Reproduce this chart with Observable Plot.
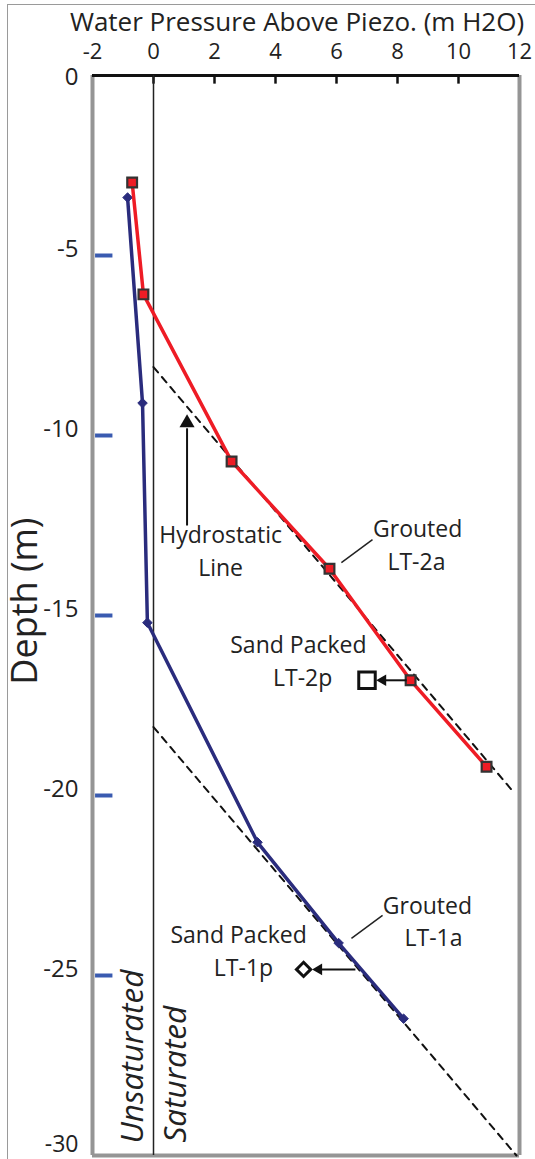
<!DOCTYPE html>
<html>
<head>
<meta charset="utf-8">
<script src="https://cdn.jsdelivr.net/npm/d3@7"></script>
<script src="https://cdn.jsdelivr.net/npm/@observablehq/plot@0.6"></script>
<style>
  html, body { margin: 0; padding: 0; background: #fff; }
  #chart { position: relative; width: 535px; height: 1159px; }
  #border { position: absolute; left: 7px; top: 4px; width: 540px; height: 1160px; border: 1px solid #9a9a9a; pointer-events: none; }
</style>
</head>
<body>
<div id="chart"><div id="border"></div></div>
<script>
// ---- data ----
const xTicks = [-2, 0, 2, 4, 6, 8, 10, 12];
const topTickMarks = [0, 2, 4, 6, 8, 10];
const yTickTop = [0];
const yTicksMid = [-5, -10, -15, -20, -25];
const yTickBottom = [-30];
const blueTickDepths = [-5, -10, -15, -20, -25];

// Grouted LT-2a (red)
const lt2aPressure = [-0.7, -0.33, 2.56, 5.77, 8.43, 10.92];
const lt2aDepth = [-2.97, -6.08, -10.72, -13.7, -16.8, -19.2];
// Grouted LT-1a (blue)
const lt1aPressure = [-0.85, -0.36, -0.2, 3.41, 6.07, 8.2];
const lt1aDepth = [-3.39, -9.1, -15.2, -21.3, -24.1, -26.2];
// Sand packed piezometers
const lt2pPressure = [7.0];
const lt2pDepth = [-16.8];
const lt1pPressure = [4.92];
const lt1pDepth = [-24.83];
// Hydrostatic lines
const hydroName = ["upper", "upper", "lower", "lower"];
const hydroPressure = [0, 11.8, 0, 11.9];
const hydroDepth = [-8.1, -19.9, -18.1, -30];

// annotation text
const labelText = ["Hydrostatic", "Line", "Grouted", "LT-2a", "Sand Packed", "LT-2p", "Grouted", "LT-1a", "Sand Packed", "LT-1p"];
const labelX = [2.2, 2.2, 8.66, 8.62, 4.75, 4.89, 8.98, 9.18, 2.79, 2.95];
const labelY = [-12.78, -13.69, -12.61, -13.53, -15.83, -16.75, -23.08, -23.97, -23.89, -24.8];
const zoneText = ["Unsaturated", "Saturated"];
const zoneX = [-0.66, 0.72];
const zoneY = [-29.67, -29.64];
const depthLabelY = [-14.6];

// arrows / leader lines (x1,y1,x2,y2)
const leaderX1 = [6.16, 6.49], leaderY1 = [-13.53, -23.97], leaderX2 = [7.18, 7.51], leaderY2 = [-12.89, -23.33];
const arrowX1 = [8.3, 6.62, 1.1], arrowY1 = [-16.8, -24.83, -12.5], arrowX2 = [7.6, 5.5, 1.1], arrowY2 = [-16.8, -24.83, -9.8];
const headX = [7.52, 5.42, 1.1], headY = [-16.8, -24.83, -9.65], headRot = [-90, -90, 0], headR = [4.3, 4.3, 5.6];

// ---- tables ----
const lt2a = lt2aPressure.map((x, i) => ({x, y: lt2aDepth[i]}));
const lt1a = lt1aPressure.map((x, i) => ({x, y: lt1aDepth[i]}));
const lt2p = lt2pPressure.map((x, i) => ({x, y: lt2pDepth[i]}));
const lt1p = lt1pPressure.map((x, i) => ({x, y: lt1pDepth[i]}));
const hydro = hydroPressure.map((x, i) => ({x, y: hydroDepth[i], z: hydroName[i]}));
const labels = labelText.map((t, i) => ({t, x: labelX[i], y: labelY[i]}));
const zones = zoneText.map((t, i) => ({t, x: zoneX[i], y: zoneY[i]}));
const leaders = leaderX1.map((x1, i) => ({x1, y1: leaderY1[i], x2: leaderX2[i], y2: leaderY2[i]}));
const arrows = arrowX1.map((x1, i) => ({x1, y1: arrowY1[i], x2: arrowX2[i], y2: arrowY2[i]}));
const heads = headX.map((x, i) => ({x, y: headY[i], rot: headRot[i], r: headR[i]}));

const red = "#ee1c25", navy = "#2a2c7d", blueTick = "#3a5bb0", gray = "#959595";
const fmt = d => String(d).replace("−", "-");
const yAxisOpts = {anchor: "left", tickSize: 0, tickPadding: 14, fontSize: 24, label: null, tickFormat: fmt};

const chart = Plot.plot({
  width: 535,
  height: 1159,
  marginLeft: 92,
  marginRight: 16,
  marginTop: 75,
  marginBottom: 4,
  x: {domain: [-2, 12]},
  y: {domain: [-30, 0]},
  r: {type: "identity"},
  style: {fontFamily: "'Open Sans', sans-serif", background: "white", color: "#222"},
  marks: [
    // axes labels
    Plot.axisX(xTicks, {anchor: "top", tickSize: 0, tickPadding: 17, fontSize: 22, label: null, tickFormat: fmt}),
    Plot.axisY(yTickTop, {...yAxisOpts, dy: 2}),
    Plot.axisY(yTicksMid, {...yAxisOpts, dy: -6}),
    Plot.axisY(yTickBottom, {...yAxisOpts, fontSize: 23, dy: -11}),
    Plot.text(["Water Pressure Above Piezo. (m H2O)"], {frameAnchor: "top", dy: -63, dx: -9, fontSize: 26}),
    Plot.text(depthLabelY, {x: () => -2, y: d => d, text: () => "Depth (m)", dx: -67, rotate: -90, fontSize: 36}),
    // frame
    Plot.ruleX([-2, 12], {stroke: gray, strokeWidth: 4}),
    Plot.ruleY([-30], {stroke: gray, strokeWidth: 4}),
    Plot.ruleY([0], {stroke: "#111", strokeWidth: 3}),
    Plot.ruleX(topTickMarks, {y1: 0, y2: -0.24, stroke: "#111", strokeWidth: 2.5}),
    Plot.ruleY(blueTickDepths, {x1: -1.9, x2: -1.33, stroke: blueTick, strokeWidth: 4}),
    // saturated boundary
    Plot.ruleX([0], {stroke: "#222", strokeWidth: 1.5}),
    // hydrostatic lines
    Plot.line(hydro, {x: "x", y: "y", z: "z", stroke: "#111", strokeWidth: 2, strokeDasharray: "7,6"}),
    // series
    Plot.line(lt1a, {x: "x", y: "y", stroke: navy, strokeWidth: 3.5}),
    Plot.dot(lt1a, {x: "x", y: "y", symbol: "diamond2", r: 4.3, fill: navy, stroke: navy, strokeWidth: 1}),
    Plot.line(lt2a, {x: "x", y: "y", stroke: red, strokeWidth: 3.5}),
    Plot.dot(lt2a, {x: "x", y: "y", symbol: "square", r: 5.5, fill: red, stroke: "#333", strokeWidth: 2.2}),
    // sand packed
    Plot.dot(lt2p, {x: "x", y: "y", symbol: "square", r: 9.3, fill: "white", stroke: "#111", strokeWidth: 3}),
    Plot.dot(lt1p, {x: "x", y: "y", symbol: "diamond2", r: 6.4, fill: "white", stroke: "#111", strokeWidth: 3}),
    // arrows and leaders
    Plot.link(arrows, {x1: "x1", y1: "y1", x2: "x2", y2: "y2", stroke: "#111", strokeWidth: 2}),
    Plot.dot(heads, {x: "x", y: "y", symbol: "triangle", r: "r", rotate: "rot", fill: "#111", stroke: "none"}),
    Plot.link(leaders, {x1: "x1", y1: "y1", x2: "x2", y2: "y2", stroke: "#222", strokeWidth: 1.5}),
    // annotation text
    Plot.text(labels, {x: "x", y: "y", text: "t", fontSize: 23, fill: "#222"}),
    Plot.text(zones, {x: "x", y: "y", text: "t", rotate: -90, textAnchor: "start", fontSize: 31.5, fontStyle: "italic", fill: "#222"})
  ]
});
document.getElementById("chart").prepend(chart);
</script>
</body>
</html>
